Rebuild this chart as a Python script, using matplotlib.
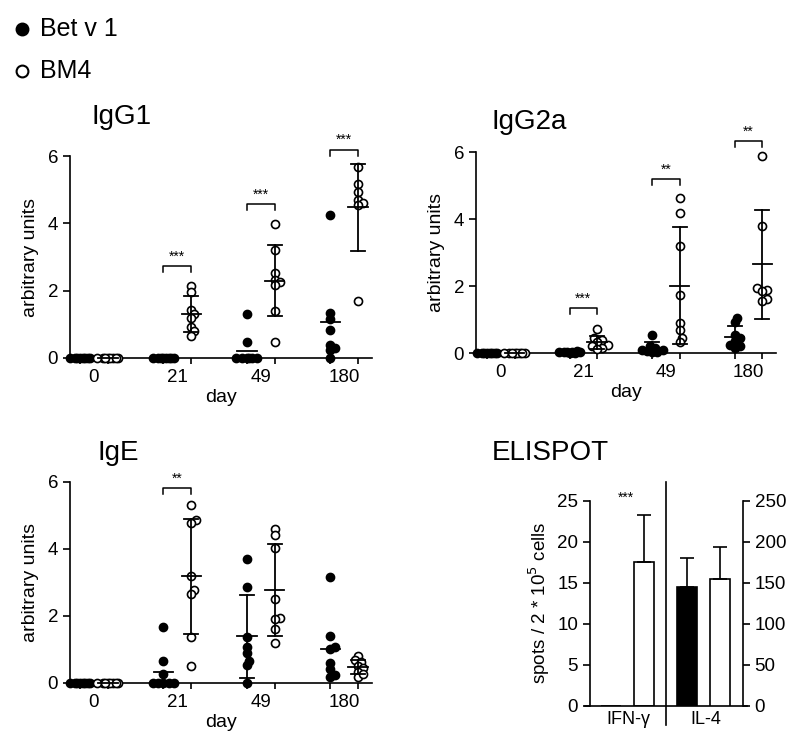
import numpy as np
import matplotlib
matplotlib.use("Agg")
import matplotlib.pyplot as plt
from matplotlib.lines import Line2D

plt.rcParams["font.family"] = ["Liberation Sans", "DejaVu Sans"]
plt.rcParams["axes.linewidth"] = 1.2
plt.rcParams["xtick.major.width"] = 1.2
plt.rcParams["ytick.major.width"] = 1.2
plt.rcParams["xtick.minor.width"] = 1.2

# ---------- data ----------
days = ["0", "21", "49", "180"]

igg1_bet = [[0] * 8, [0] * 8,
            [1.31, 0.47, 0, 0, 0, 0, 0, 0],
            [4.25, 1.33, 1.16, 0.84, 0.40, 0.30, 0.23, 0]]
igg1_bm4 = [[0] * 8,
            [2.15, 1.96, 1.43, 1.31, 1.19, 0.91, 0.79, 0.66],
            [3.98, 3.21, 2.52, 2.32, 2.27, 2.17, 1.41, 0.47],
            [5.68, 5.16, 4.94, 4.69, 4.60, 4.55, 1.68]]

igg2a_bet = [[0] * 8,
             [0.05, 0.04, 0.03, 0.03, 0.02, 0.02, 0.01, 0.01],
             [0.55, 0.22, 0.15, 0.10, 0.08, 0.05, 0.03, 0.02],
             [1.04, 0.92, 0.55, 0.45, 0.35, 0.25, 0.15, 0.20]]
igg2a_bm4 = [[0] * 8,
             [0.72, 0.45, 0.38, 0.33, 0.25, 0.20, 0.15, 0.12],
             [4.62, 4.18, 3.20, 1.74, 0.90, 0.68, 0.45, 0.33],
             [5.89, 3.80, 1.94, 1.89, 1.85, 1.60, 1.54]]

ige_bet = [[0] * 8,
           [1.67, 0.66, 0.26, 0, 0, 0, 0, 0],
           [3.68, 2.85, 1.37, 1.07, 0.88, 0.66, 0.53, 0],
           [3.15, 1.39, 1.07, 1.00, 0.58, 0.40, 0.23, 0.16]]
ige_bm4 = [[0] * 8,
           [5.30, 4.86, 4.78, 3.18, 2.77, 2.65, 1.35, 0.50],
           [4.60, 4.41, 4.01, 2.49, 1.94, 1.91, 1.59, 1.19],
           [0.80, 0.68, 0.62, 0.50, 0.43, 0.33, 0.18, 0.25]]

# which groups show a SD bar
igg1_sd = ([0, 0, 0, 0], [0, 1, 1, 1])
igg2a_sd = ([0, 0, 1, 1], [0, 1, 1, 1])
ige_sd = ([0, 0, 1, 0], [0, 1, 1, 1])

# significance brackets: (day index, height, label)
igg1_sig = [(1, 2.72, "***"), (2, 4.57, "***"), (3, 6.18, "***")]
igg2a_sig = [(1, 1.34, "***"), (2, 5.19, "**"), (3, 6.32, "**")]
ige_sig = [(1, 5.80, "**")]

cytokines = ["IFN-\u03b3", "IL-4"]
elispot_bet = [0, 145]
elispot_bet_sd = [0, 35]
elispot_bm4 = [17.5, 155]
elispot_bm4_sd = [5.7, 38]


def swarm(vals, xpx, ypx, d=4.5, step=2.6):
    vals = np.asarray(vals, float)
    offs = np.zeros(len(vals))
    placed = []
    for i in np.argsort(vals):
        y = vals[i] * ypx
        best, bestd = 0.0, -1
        for k in [0, 1, -1, 2, -2, 3, -3, 4, -4]:
            o = k * step
            md = min([np.hypot(o - po, y - py) for po, py in placed], default=99)
            if md >= d:
                best = o
                break
            if md > bestd:
                best, bestd = o, md
        placed.append((best, y))
        offs[i] = best / xpx
    return offs


def dot_panel(ax, bet, bm4, sdflags, sig, xpx, ypx):
    cols = []
    for i in range(4):
        for j, (grp, filled) in enumerate([(bet, True), (bm4, False)]):
            x0 = 3 * i + j
            cols.append(x0)
            v = np.asarray(grp[i], float)
            xs = x0 + swarm(v, xpx, ypx)
            ax.plot(xs, v, "o", ms=5.8, mew=1.2, mec="black",
                    mfc="black" if filled else "white", clip_on=False, zorder=4)
            m = v.mean()
            ax.plot([x0 - 0.35, x0 + 0.35], [m, m], color="black", lw=1.3,
                    clip_on=False, zorder=5)
            if sdflags[j][i]:
                s = v.std(ddof=1)
                ax.plot([x0, x0], [m - s, m + s], color="black", lw=1.3, zorder=5)
                for yy in (m - s, m + s):
                    ax.plot([x0 - 0.25, x0 + 0.25], [yy, yy], color="black",
                            lw=1.3, zorder=5)
    for i, h, lab in sig:
        x1, x2 = 3 * i, 3 * i + 1
        ax.plot([x1, x1, x2, x2], [h - 0.18, h, h, h - 0.18], color="black",
                lw=1.1, clip_on=False)
        ax.text((x1 + x2) / 2, h + 0.08, lab, ha="center", va="bottom",
                fontsize=10)
    ax.set_ylim(0, 6)
    ax.set_yticks([0, 2, 4, 6])
    ax.set_xticks(cols, minor=True)
    ax.set_xticks([3 * i + 0.5 for i in range(4)], days)
    ax.tick_params(axis="x", which="major", length=0, pad=8)
    ax.tick_params(axis="x", which="minor", length=4, direction="out")
    ax.tick_params(labelsize=13.5)
    ax.tick_params(axis="y", length=5)
    for s in ["top", "right"]:
        ax.spines[s].set_visible(False)
    ax.spines["left"].set_bounds(0, 6)
    ax.set_ylabel("arbitrary units", fontsize=14, labelpad=6)
    ax.set_xlabel("day", fontsize=14, labelpad=2)


fig = plt.figure(figsize=(8, 7.54), dpi=100)

ax1 = fig.add_axes([0.0875, 0.5252, 0.3775, 0.2679])
ax1.set_xlim(-0.36, 10.5)
dot_panel(ax1, igg1_bet, igg1_bm4, igg1_sd, igg1_sig, 27.8, 33.6)

ax2 = fig.add_axes([0.595, 0.5318, 0.375, 0.2666])
ax2.set_xlim(-0.4, 10.5)
dot_panel(ax2, igg2a_bet, igg2a_bm4, igg2a_sd, igg2a_sig, 27.5, 33.5)

ax3 = fig.add_axes([0.0875, 0.0946, 0.3775, 0.2666])
ax3.set_xlim(-0.36, 10.5)
dot_panel(ax3, ige_bet, ige_bm4, ige_sd, ige_sig, 27.8, 33.5)

# ---------- ELISPOT ----------
ax4 = fig.add_axes([0.73125, 0.0641, 0.2021, 0.2719])
ax4.set_xlim(-0.8, 4.1)
ax4.set_ylim(0, 25)
ax5 = ax4.twinx()
ax5.set_ylim(0, 250)
pos_bet = [0, 2.3]
pos_bm4 = [1, 3.3]
ax4.bar(pos_bet[0], elispot_bet[0], width=0.6, color="black", edgecolor="black", lw=1.2)
ax4.bar(pos_bm4[0], elispot_bm4[0], width=0.6, color="white", edgecolor="black", lw=1.2)
ax4.errorbar(pos_bm4[0], elispot_bm4[0], yerr=[[0], [elispot_bm4_sd[0]]],
             color="black", lw=1.2, capsize=5, capthick=1.2)
ax5.bar(pos_bet[1], elispot_bet[1], width=0.6, color="black", edgecolor="black", lw=1.2)
ax5.bar(pos_bm4[1], elispot_bm4[1], width=0.6, color="white", edgecolor="black", lw=1.2)
ax5.errorbar([pos_bet[1], pos_bm4[1]], [elispot_bet[1], elispot_bm4[1]],
             yerr=[[0, 0], [elispot_bet_sd[1], elispot_bm4_sd[1]]],
             fmt="none", color="black", lw=1.2, capsize=5, capthick=1.2)
ax4.text(0.45, 25.3, "***", ha="center", va="center", fontsize=10)
ax4.axvline(1.64, ymin=-0.094, ymax=1.093, color="black", lw=1.2, clip_on=False)

ax4.spines["left"].set_position(("data", -0.65))
ax4.spines["left"].set_bounds(0, 25)
ax4.spines["top"].set_visible(False)
ax4.spines["right"].set_visible(False)
ax4.set_yticks([0, 5, 10, 15, 20, 25])
ax4.set_xticks([0.5, 2.85], cytokines)
ax4.tick_params(axis="x", length=0, pad=4, labelsize=13)
ax4.tick_params(axis="y", length=5, labelsize=13.5)
ax4.set_ylabel("spots / 2 * 10$^5$ cells", fontsize=13.5, labelpad=4)

for s in ["left", "top", "bottom"]:
    ax5.spines[s].set_visible(False)
ax5.spines["right"].set_position(("data", 3.98))
ax5.spines["right"].set_bounds(0, 250)
ax5.set_yticks([0, 50, 100, 150, 200, 250])
ax5.tick_params(axis="y", length=5, labelsize=13.5)

# ---------- titles ----------
fig.text(92 / 800, 1 - 117 / 754, "IgG1", fontsize=20, va="center")
fig.text(492 / 800, 1 - 122 / 754, "IgG2a", fontsize=20, va="center")
fig.text(98 / 800, 1 - 453 / 754, "IgE", fontsize=20, va="center")
fig.text(492 / 800, 1 - 453 / 754, "ELISPOT", fontsize=20, va="center")

# ---------- legend ----------
for yy, lab, fc in [(29, "Bet v 1", "black"), (71, "BM4", "white")]:
    fig.add_artist(Line2D([22 / 800], [1 - yy / 754], transform=fig.transFigure,
                          marker="o", ms=8.5, mew=1.5, mec="black", mfc=fc))
    fig.text(40 / 800, 1 - yy / 754, lab, fontsize=18, va="center")

fig.savefig("out.png", dpi=100)
